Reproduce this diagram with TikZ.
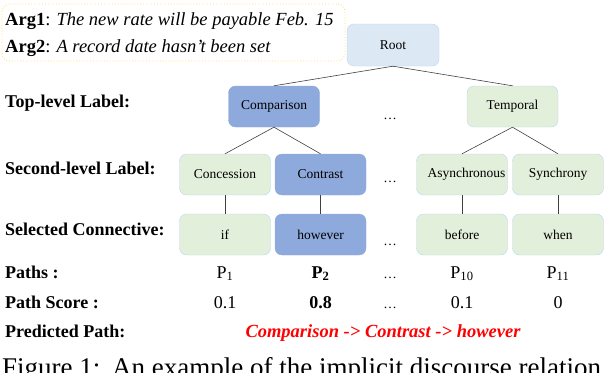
\documentclass[tikz,border=0pt]{standalone}
\usepackage{fontspec}
\setmainfont{Liberation Serif}
\definecolor{grn}{HTML}{E2EFDA}
\definecolor{blu}{HTML}{8EA9DB}
\definecolor{rootc}{HTML}{DDE8F5}
\definecolor{edgec}{HTML}{BDD7EE}
\definecolor{argc}{HTML}{FFD966}
\definecolor{linec}{HTML}{404040}
\begin{document}
\begin{tikzpicture}[x=1pt,y=-1pt,
  tbox/.style={draw=edgec, line width=0.4pt, rounded corners=7pt, minimum width=91pt, minimum height=41pt, inner sep=0pt, font=\fontsize{13.5}{15}\selectfont},
  gbox/.style={tbox, fill=grn},
  bbox/.style={tbox, fill=blu, draw=blu},
  rbox/.style={tbox, fill=rootc, minimum width=92pt, minimum height=42pt},
  lbl/.style={anchor=base west, inner sep=0pt, font=\fontsize{18}{20}\selectfont\bfseries},
  val/.style={anchor=base, inner sep=0pt, font=\fontsize{18}{20}\selectfont},
  dts/.style={inner sep=0pt, font=\fontsize{13.5}{15}\selectfont},
  captxt/.style={anchor=base west, inner sep=0pt, font=\fontsize{27}{29}\selectfont},
  conn/.style={draw=linec, line width=0.6pt}]
\useasboundingbox (0,0) rectangle (604,372);
\clip (0,0) rectangle (604,372);
% argument box
\node[draw=argc, dotted, line width=0.8pt, rounded corners=8pt, minimum width=343pt, minimum height=57pt, inner sep=0pt] (args) at (173.5,32.5) {};
\node[anchor=base west, inner sep=0pt, font=\fontsize{18.5}{20}\selectfont] (arg1) at (5,25) {\textbf{Arg1}: \textit{The new rate will be payable Feb. 15}};
\node[anchor=base west, inner sep=0pt, font=\fontsize{18.5}{20}\selectfont] (arg2) at (5,52) {\textbf{Arg2}: \textit{A record date hasn't been set}};
% tree
\node[rbox] (root) at (393,45) {Root};
\node[bbox] (comp) at (274,106.5) {Comparison};
\node[gbox] (temp) at (512.5,106.5) {Temporal};
\node[dts] (d1) at (390,119) {\dots};
\node[gbox] (conc) at (225,174.5) {Concession};
\node[bbox] (contr) at (320.5,174.5) {Contrast};
\node[gbox] (async) at (462,174.5) {\hspace*{9pt}Asynchronous};
\node[gbox] (sync) at (558,174.5) {Synchrony};
\node[dts] (d2) at (390,182) {\dots};
\node[gbox] (cif) at (225,234.5) {if};
\node[bbox] (chow) at (320.5,234.5) {however};
\node[gbox] (cbef) at (462,234.5) {before};
\node[gbox] (cwhen) at (558,234.5) {when};
\node[dts] (d3) at (390,245) {\dots};
\draw[conn] (root.south) -- (comp.north);
\draw[conn] (root.south) -- (temp.north);
\draw[conn] (comp.south) -- (conc.north);
\draw[conn] (comp.south) -- (contr.north);
\draw[conn] (temp.south) -- (async.north);
\draw[conn] (temp.south) -- (sync.north);
\draw[conn] (conc.south) -- (cif.north);
\draw[conn] (contr.south) -- (chow.north);
\draw[conn] (async.south) -- (cbef.north);
\draw[conn] (sync.south) -- (cwhen.north);
% left labels
\node[lbl] (l1) at (5,107) {Top-level Label:};
\node[lbl] (l2) at (5,174) {Second-level Label:};
\node[lbl] (l3) at (5,235) {Selected Connective:};
\node[lbl] (l4) at (5,278) {Paths :};
\node[lbl] (l5) at (5,308) {Path Score :};
\node[lbl] (l6) at (5,337) {Predicted Path:};
% paths
\node[val] (p1) at (225,278) {P\textsubscript{1}};
\node[val] (p2) at (320.5,278) {\textbf{P\textsubscript{2}}};
\node[val, font=\fontsize{13.5}{15}\selectfont] (p3) at (390,278) {\dots};
\node[val] (p10) at (462,278) {P\textsubscript{10}};
\node[val] (p11) at (558,278) {P\textsubscript{11}};
% scores
\node[val] (s1) at (225,308) {0.1};
\node[val] (s2) at (320.5,308) {\textbf{0.8}};
\node[val, font=\fontsize{13.5}{15}\selectfont] (s3) at (390,308) {\dots};
\node[val] (s10) at (462,308) {0.1};
\node[val] (s11) at (558,308) {0};
% predicted
\node[val, text=red, font=\fontsize{18.5}{20}\selectfont\bfseries\itshape] (pred) at (383,337) {Comparison -> Contrast -> however};
% caption (cut off)
\node[captxt] (cap1) at (2,376) {Figure 1:};
\node[captxt] (cap2) at (112,376) {An example of the implicit discourse relation};
\end{tikzpicture}
\end{document}
